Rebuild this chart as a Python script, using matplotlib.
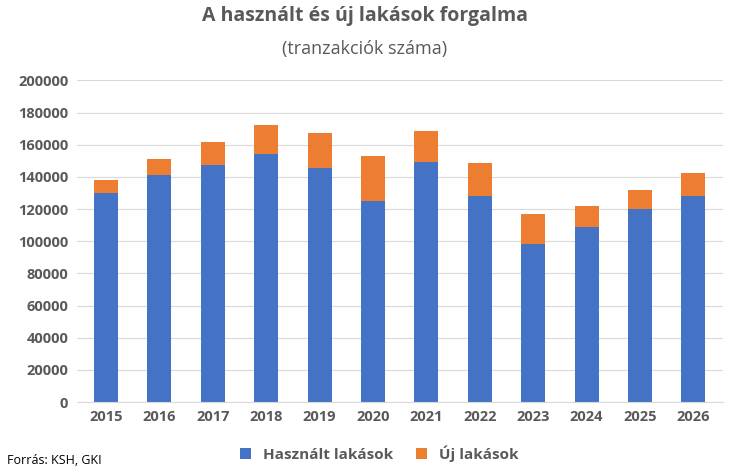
import matplotlib
matplotlib.use("Agg")
import matplotlib.pyplot as plt

years = ["2015", "2016", "2017", "2018", "2019", "2020",
         "2021", "2022", "2023", "2024", "2025", "2026"]
used = [130000, 141000, 147500, 154000, 145500, 125000,
        149000, 128000, 98500, 109000, 120000, 128000]
total = [138000, 151000, 162000, 172500, 167000, 153000,
         168500, 148500, 117000, 122000, 132000, 142500]
new = [t - u for t, u in zip(total, used)]

plt.rcParams["font.family"] = "Open Sans"
grey = "#595959"

fig = plt.figure(figsize=(7.30, 4.73), dpi=100)
ax = fig.add_axes([0.105, 0.15, 0.885, 0.68])
x = range(len(years))
ax.bar(x, used, width=0.45, color="#4472C4", label="Használt lakások", zorder=2)
ax.bar(x, new, width=0.45, bottom=used, color="#ED7D31", label="Új lakások", zorder=2)

ax.set_ylim(0, 200000)
ax.set_yticks(range(0, 200001, 20000))
ax.set_xticks(list(x))
ax.set_xticklabels(years)
ax.set_xlim(-0.55, len(years) - 0.45)
ax.grid(axis="y", color="#d9d9d9", linewidth=0.8, zorder=0)
for s in ("top", "right", "left"):
    ax.spines[s].set_visible(False)
ax.spines["bottom"].set_color("#d9d9d9")
ax.tick_params(length=0, labelsize=10.5, labelcolor=grey, pad=6)
for lbl in ax.get_xticklabels() + ax.get_yticklabels():
    lbl.set_fontweight("bold")

fig.text(0.5, 0.955, "A használt és új lakások forgalma", ha="center",
         fontsize=14, fontweight="bold", color=grey)
fig.text(0.5, 0.885, "(tranzakciók száma)", ha="center", fontsize=13, color=grey)
fig.text(0.01, 0.02, "Forrás: KSH, GKI", fontsize=9, color="black")
fig.legend(loc="lower center", bbox_to_anchor=(0.52, -0.005), ncol=2, frameon=False,
           prop={"size": 11, "weight": "bold"}, labelcolor=grey,
           handlelength=0.7, handleheight=0.7, columnspacing=1.5)

fig.savefig("out.png", dpi=100)
